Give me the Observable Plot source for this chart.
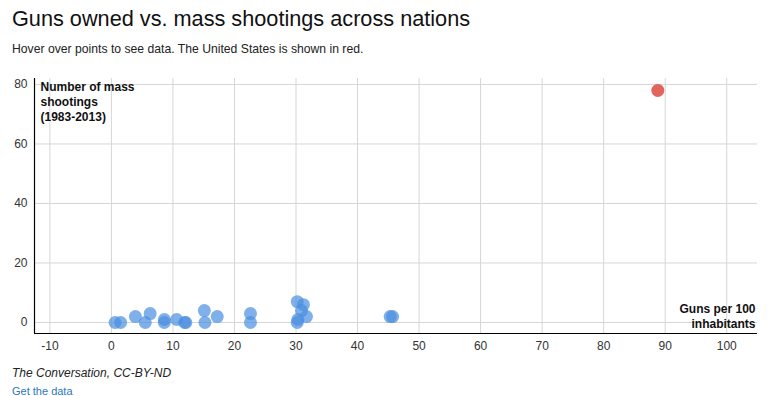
<!DOCTYPE html>
<html>
<head>
<meta charset="utf-8">
<script src="https://cdn.jsdelivr.net/npm/d3@7"></script>
<script src="https://cdn.jsdelivr.net/npm/@observablehq/plot@0.6"></script>
<style>
  html, body { margin: 0; padding: 0; background: #fff; width: 778px; height: 396px; overflow: hidden; }
  body { font-family: "Liberation Sans", Arial, sans-serif; position: relative; }
  #title { position: absolute; left: 12px; top: 6px; font-size: 21.7px; color: #111; white-space: nowrap; }
  #subtitle { position: absolute; left: 12px; top: 42px; font-size: 12.2px; color: #222; white-space: nowrap; }
  #chart { position: absolute; left: 0; top: 64px; }
  #caption { position: absolute; left: 12px; top: 366px; font-size: 12px; font-style: italic; color: #222; }
  #link { position: absolute; left: 12px; top: 385px; font-size: 11px; color: #2a78c0; }
</style>
</head>
<body>
<div id="title">Guns owned vs. mass shootings across nations</div>
<div id="subtitle">Hover over points to see data. The United States is shown in red.</div>
<div id="chart"></div>
<div id="caption">The Conversation, CC-BY-ND</div>
<div id="link">Get the data</div>
<script>
// Guns per 100 inhabitants (x) and number of mass shootings 1983-2013 (y)
const guns      = [0.6, 1.5, 3.9, 5.5, 6.3, 8.6, 8.6, 10.6, 11.9, 12.1, 15.1, 15.2, 17.2, 22.6, 22.6, 30.2, 31.2, 30.9, 31.7, 30.3, 30.2, 45.3, 45.7, 88.8];
const shootings = [0,   0,   2,   0,   3,   1,   0,   1,    0,    0,    4,    0,    2,    3,    0,    7,    6,    4,    2,    1,    0,    2,    2,    78];
const isUS      = [0,   0,   0,   0,   0,   0,   0,   0,    0,    0,    0,    0,    0,    0,    0,    0,    0,    0,    0,    0,    0,    0,    0,    1];

const xTicks = [-10, 0, 10, 20, 30, 40, 50, 60, 70, 80, 90, 100];
const yTicks = [0, 20, 40, 60, 80];
const xDomain = [-12.5, 105];
const yDomain = [-3.7, 82];

const yLabel = "Number of mass\nshootings\n(1983-2013)";
const xLabel = "Guns per 100\ninhabitants";

const data = guns.map((g, i) => ({guns: g, shootings: shootings[i], us: isUS[i] === 1}));
const others = data.filter(d => !d.us);
const us = data.filter(d => d.us);

const chart = Plot.plot({
  width: 778,
  height: 300,
  marginTop: 14,
  marginBottom: 31,
  marginLeft: 34,
  marginRight: 21,
  style: {fontFamily: "'Liberation Sans', Arial, sans-serif", fontSize: "12px", color: "#333", background: "#fff"},
  x: {domain: xDomain, ticks: xTicks, tickSize: 0, tickPadding: 8, label: null, tickFormat: d => String(d)},
  y: {domain: yDomain, ticks: yTicks, tickSize: 0, tickPadding: 7, label: null, tickFormat: d => String(d)},
  marks: [
    Plot.gridX(xTicks, {stroke: "#d6d6d6", strokeOpacity: 1}),
    Plot.gridY(yTicks, {stroke: "#d6d6d6", strokeOpacity: 1}),
    Plot.ruleX([xDomain[0]], {stroke: "#000", strokeWidth: 1.2}),
    Plot.ruleY([yDomain[0]], {stroke: "#000", strokeWidth: 1.2}),
    Plot.dot(others, {x: "guns", y: "shootings", r: 6.5, fill: "#4a8fe0", fillOpacity: 0.7, stroke: "none"}),
    Plot.dot(us, {x: "guns", y: "shootings", r: 6.5, fill: "#e0534a", fillOpacity: 0.9, stroke: "none"}),
    Plot.text([yLabel], {frameAnchor: "top-left", textAnchor: "start", lineAnchor: "top", dx: 6, dy: 2, fontWeight: "bold", fontSize: 12, fill: "#111", lineHeight: 1.25}),
    Plot.text([xLabel], {frameAnchor: "bottom-right", textAnchor: "end", lineAnchor: "bottom", dx: -2, dy: -6, fontWeight: "bold", fontSize: 12, fill: "#111", lineHeight: 1.25})
  ]
});
document.getElementById("chart").appendChild(chart);
</script>
</body>
</html>
